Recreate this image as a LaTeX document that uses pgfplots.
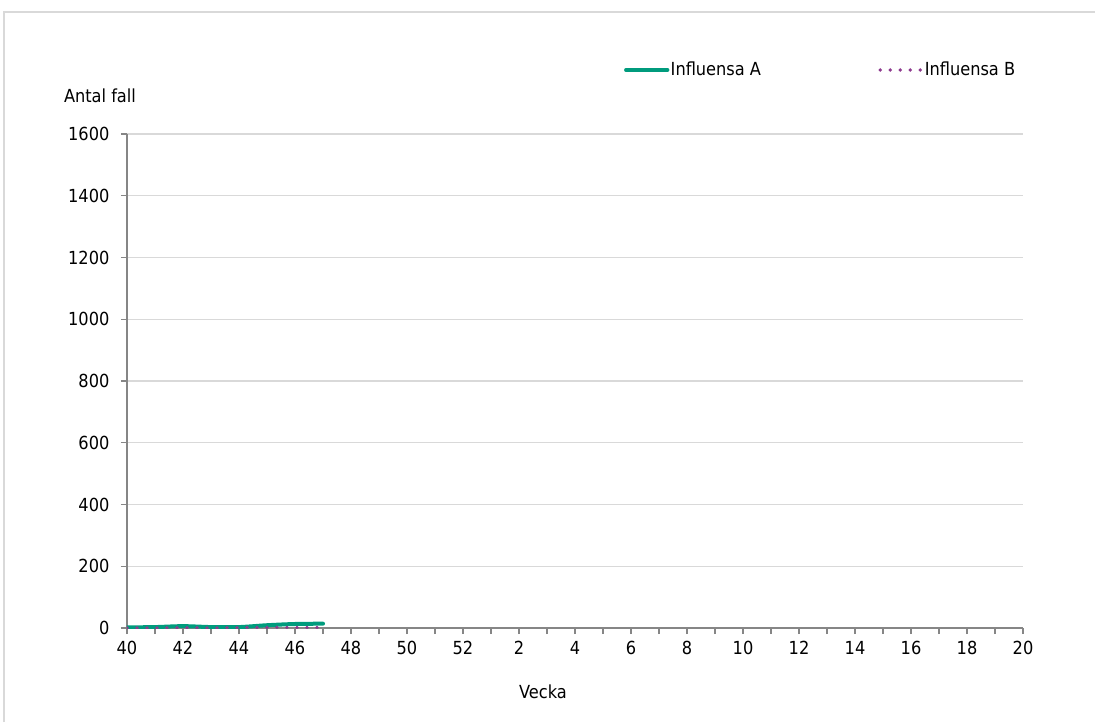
\documentclass[border=0pt]{standalone}
\usepackage{fontspec}
\setmainfont{DejaVu Sans Condensed}
\usepackage{pgfplots}
\pgfplotsset{compat=1.18}

\definecolor{infA}{HTML}{009B7D}
\definecolor{infB}{HTML}{8E3A8E}
\definecolor{gridgrey}{HTML}{D9D9D9}
\definecolor{axisgrey}{HTML}{868686}

% veckor 40..52, 1..20 -> index 0..32
\pgfplotstableread{
idx infA infB
0   2    0
1   3    0
2   6    1
3   3    0
4   3    1
5   9    2
6   13   2
7   14   2
}\veckodata

\begin{document}
\fontsize{13.5}{16}\selectfont
\begin{tikzpicture}
\path[use as bounding box] (-95.25pt,-70.5pt) rectangle ++(821.25pt,541.5pt);
\draw[gridgrey, line width=1.2pt] (-92.25pt,-70.5pt) -- (-92.25pt,462pt) -- (726pt,462pt);
\begin{axis}[
    at={(0,0)}, anchor=south west,
    scale only axis,
    width=672pt, height=370.5pt,
    xmin=0, xmax=32,
    ymin=0, ymax=1600,
    xtick={0,...,32},
    xticklabels={40,,42,,44,,46,,48,,50,,52,,2,,4,,6,,8,,10,,12,,14,,16,,18,,20},
    ytick={0,200,...,1600},
    axis x line*=bottom,
    axis y line*=left,
    axis line style={axisgrey, line width=0.8pt, -},
    tick style={axisgrey, line width=0.8pt},
    tick align=outside,
    major tick length=4.5pt,
    ymajorgrids,
    grid style={gridgrey, line width=0.8pt},
    /pgf/number format/assume math mode=true,
    /pgf/number format/1000 sep={},
    xticklabel style={yshift=-1pt},
    yticklabel style={xshift=-4pt},
    xlabel={Vecka},
    xlabel style={at={(axis description cs:0.4643,0)}, anchor=center, yshift=-48pt},
    ylabel={Antal fall},
    ylabel style={rotate=-90, at={(axis description cs:0,1)}, anchor=center, xshift=-20.25pt, yshift=28.5pt},
    legend columns=2,
    legend style={at={(rel axis cs:0.550,1.1296)}, anchor=west, draw=none, fill=none,
        nodes={inner sep=1pt},
        /tikz/every even column/.append style={column sep=87pt}},
    legend image code/.code={\draw[#1] (0pt,0pt) -- (31pt,0pt);},
]
\addplot[infA, line width=3pt, smooth, line cap=round] table[x=idx, y=infA] {\veckodata};
\addlegendentry{Influensa A}
\addplot[infB, line width=2.8pt, line cap=round, dash pattern=on 0pt off 7.5pt, smooth] table[x=idx, y=infB] {\veckodata};
\addlegendentry{Influensa B}
\end{axis}
\end{tikzpicture}
\end{document}
